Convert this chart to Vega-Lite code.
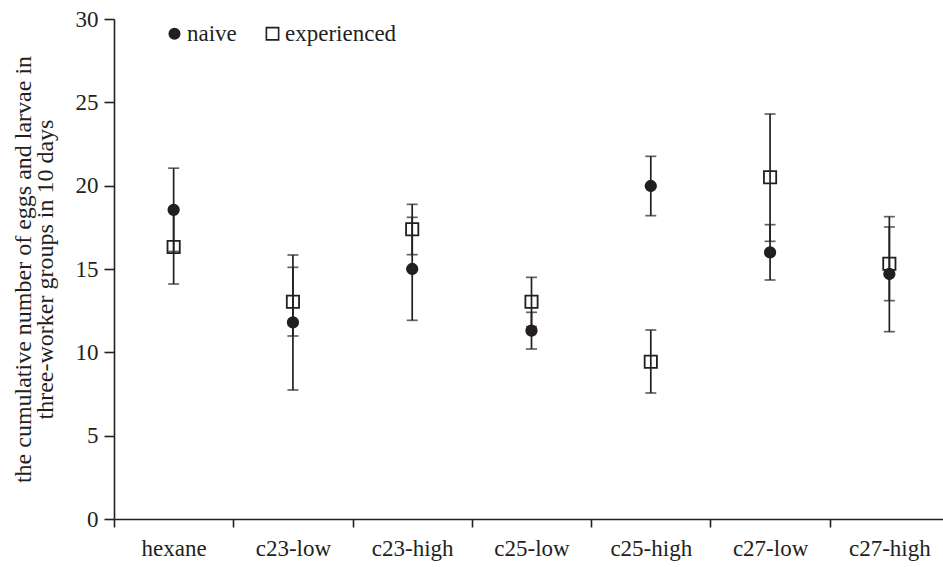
{
  "$schema": "https://vega.github.io/schema/vega-lite/v6.json",
  "width": 828,
  "height": 500,
  "autosize": "none",
  "padding": {"left": 114, "top": 19, "right": 1, "bottom": 48},
  "background": "white",
  "config": {
    "view": {"stroke": null},
    "font": "Liberation Serif",
    "axis": {"grid": false, "domainColor": "#231f20", "tickColor": "#231f20", "labelColor": "#231f20", "titleColor": "#231f20", "domainWidth": 1.6, "tickWidth": 1.6, "labelFont": "Liberation Serif", "titleFont": "Liberation Serif", "labelFontSize": 23, "titleFontSize": 24, "titleFontWeight": "normal"},
    "legend": {"labelFont": "Liberation Serif", "labelFontSize": 23, "labelColor": "#231f20", "padding": 0}
  },
  "data": {"values": [
    {"treatment": "hexane", "group": "naive", "mean": 18.55, "lo": 16.05, "hi": 21.05},
    {"treatment": "hexane", "group": "experienced", "mean": 16.32, "lo": 14.1, "hi": 18.5},
    {"treatment": "c23-low", "group": "naive", "mean": 11.8, "lo": 7.74, "hi": 15.84},
    {"treatment": "c23-low", "group": "experienced", "mean": 13.04, "lo": 10.98, "hi": 15.1},
    {"treatment": "c23-high", "group": "naive", "mean": 15.0, "lo": 11.92, "hi": 18.1},
    {"treatment": "c23-high", "group": "experienced", "mean": 17.38, "lo": 15.86, "hi": 18.88},
    {"treatment": "c25-low", "group": "naive", "mean": 11.3, "lo": 10.2, "hi": 12.4},
    {"treatment": "c25-low", "group": "experienced", "mean": 13.04, "lo": 11.54, "hi": 14.5},
    {"treatment": "c25-high", "group": "naive", "mean": 19.98, "lo": 18.2, "hi": 21.76},
    {"treatment": "c25-high", "group": "experienced", "mean": 9.44, "lo": 7.56, "hi": 11.34},
    {"treatment": "c27-low", "group": "naive", "mean": 16.0, "lo": 14.34, "hi": 17.66},
    {"treatment": "c27-low", "group": "experienced", "mean": 20.5, "lo": 16.66, "hi": 24.3},
    {"treatment": "c27-high", "group": "naive", "mean": 14.7, "lo": 11.24, "hi": 18.14},
    {"treatment": "c27-high", "group": "experienced", "mean": 15.32, "lo": 13.1, "hi": 17.52}
  ]},
  "encoding": {
    "x": {
      "field": "treatment", "type": "nominal", "sort": null,
      "scale": {"type": "band", "paddingInner": 0, "paddingOuter": 0, "range": [0, 835]},
      "axis": {"title": null, "labelAngle": 0, "tickBand": "extent", "tickSize": 8, "labelPadding": 10, "labelBaseline": "top"}
    }
  },
  "layer": [
    {
      "mark": {"type": "rule", "color": "#231f20", "strokeWidth": 1.7},
      "encoding": {
        "y": {"field": "lo", "type": "quantitative", "scale": {"domain": [0, 30], "nice": false},
          "axis": {"title": ["the cumulative number of eggs and larvae in", "three-worker groups in 10 days"], "values": [0, 5, 10, 15, 20, 25, 30], "tickSize": 10, "labelPadding": 6, "titlePadding": 18, "titleLineHeight": 22}},
        "y2": {"field": "hi"}
      }
    },
    {
      "mark": {"type": "tick", "orient": "horizontal", "color": "#231f20", "size": 11, "thickness": 1.7},
      "encoding": {"y": {"field": "lo", "type": "quantitative"}}
    },
    {
      "mark": {"type": "tick", "orient": "horizontal", "color": "#231f20", "size": 11, "thickness": 1.7},
      "encoding": {"y": {"field": "hi", "type": "quantitative"}}
    },
    {
      "mark": {"type": "point", "opacity": 1, "strokeWidth": 1.8, "stroke": "#231f20"},
      "encoding": {
        "y": {"field": "mean", "type": "quantitative"},
        "shape": {"field": "group", "type": "nominal", "scale": {"domain": ["naive", "experienced"], "range": ["circle", "square"]},
          "legend": {"title": null, "orient": "none", "legendX": 49, "legendY": 3, "direction": "horizontal", "symbolStrokeWidth": 1.6, "columnPadding": 24, "labelOffset": 1}},
        "fill": {"field": "group", "type": "nominal", "scale": {"domain": ["naive", "experienced"], "range": ["#231f20", "transparent"]},
          "legend": {"title": null, "orient": "none", "legendX": 49, "legendY": 3, "direction": "horizontal", "symbolStrokeWidth": 1.6, "columnPadding": 24, "labelOffset": 1}},
        "size": {"field": "group", "type": "nominal", "scale": {"domain": ["naive", "experienced"], "range": [110, 150]},
          "legend": {"title": null, "orient": "none", "legendX": 49, "legendY": 3, "direction": "horizontal", "symbolStrokeWidth": 1.6, "columnPadding": 24, "labelOffset": 1}}
      }
    }
  ]
}
